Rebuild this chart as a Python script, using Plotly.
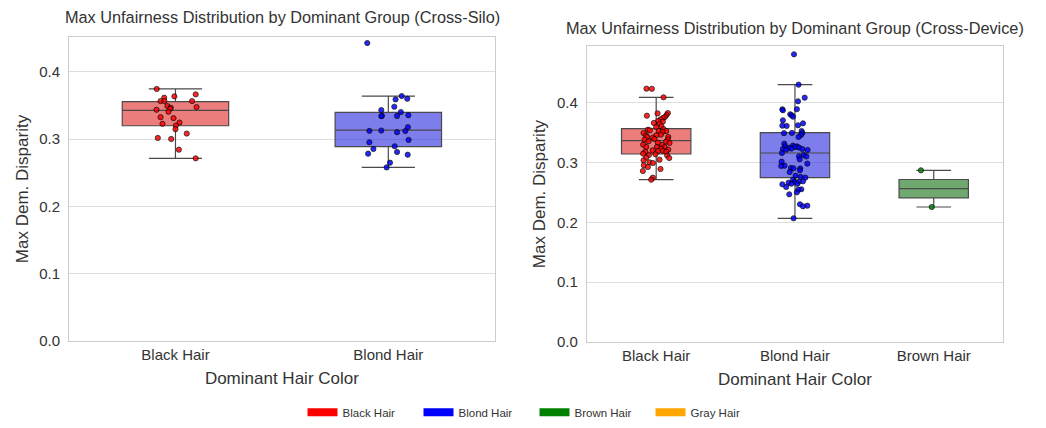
import plotly.graph_objects as go
from plotly.subplots import make_subplots

# categories per panel
SILO_GROUPS = ['Black Hair', 'Blond Hair']
DEVICE_GROUPS = ['Black Hair', 'Blond Hair', 'Brown Hair']
LEGEND_GROUPS = ['Black Hair', 'Blond Hair', 'Brown Hair', 'Gray Hair']

# Cross-Silo values (max dem. disparity per client) and strip jitter
silo_black = [0.3747, 0.3667, 0.3617, 0.3637, 0.3567, 0.3567, 0.3567, 0.3478,
              0.3493, 0.3468, 0.3453, 0.3438, 0.3408, 0.3328, 0.3313, 0.3248,
              0.3229, 0.3203, 0.3149, 0.3084, 0.3019, 0.3004, 0.2845, 0.2716]
silo_black_jit = [-0.088, 0.095, -0.053, -0.005, -0.070, -0.052, 0.078, 0.099,
                  -0.038, -0.022, -0.025, -0.089, -0.033, -0.070, -0.009, 0.019,
                  -0.061, 0.002, 0.000, 0.053, -0.083, -0.020, 0.016, 0.095]

silo_blond = [0.4430, 0.3642, 0.3592, 0.3602, 0.3483, 0.3433, 0.3403, 0.3348,
              0.3343, 0.3346, 0.3358, 0.3179, 0.3124, 0.3129, 0.3122, 0.3104,
              0.2990, 0.2955, 0.2855, 0.2895, 0.2785, 0.2810, 0.2770, 0.2651,
              0.2581]
silo_blond_jit = [-0.099, 0.063, 0.034, 0.089, 0.028, -0.033, 0.059, -0.030,
                  -0.033, 0.041, 0.094, 0.092, -0.089, -0.033, 0.080, 0.041,
                  0.095, -0.089, -0.070, 0.030, -0.095, 0.041, 0.091, 0.008,
                  -0.008]

# Cross-Device values and strip jitter
device_black = [0.4237, 0.4235, 0.4092, 0.3824, 0.3830, 0.3797, 0.3785, 0.3763,
                0.3746, 0.3724, 0.3696, 0.3685, 0.3663, 0.3646, 0.3607, 0.3596,
                0.3562, 0.3551, 0.3540, 0.3529, 0.3527, 0.3512, 0.3495, 0.3468,
                0.3457, 0.3451, 0.3429, 0.3427, 0.3418, 0.3395, 0.3390, 0.3384,
                0.3356, 0.3351, 0.3334, 0.3328, 0.3300, 0.3295, 0.3262, 0.3261,
                0.3259, 0.3234, 0.3217, 0.3206, 0.3194, 0.3196, 0.3183, 0.3181,
                0.3150, 0.3139, 0.3128, 0.3117, 0.3083, 0.3077, 0.3050, 0.3038,
                0.3005, 0.2994, 0.2955, 0.2927, 0.2894, 0.2860, 0.2749, 0.2715]
device_black_jit = [-0.070, -0.031, 0.053, 0.010, 0.084, 0.075, -0.067, 0.063,
                    0.048, 0.031, 0.014, 0.048, -0.017, 0.024, 0.038, 0.000,
                    0.053, -0.060, -0.046, 0.019, 0.072, 0.046, -0.091, 0.034,
                    0.000, -0.072, 0.087, -0.065, -0.024, -0.012, 0.084, -0.084,
                    -0.055, 0.072, 0.012, 0.096, -0.094, 0.043, -0.072, 0.005,
                    0.060, 0.036, 0.087, -0.026, 0.014, 0.048, -0.079, 0.072,
                    -0.094, -0.005, -0.053, 0.079, -0.072, 0.094, 0.024, -0.091,
                    -0.048, -0.024, -0.089, -0.060, 0.031, -0.096, -0.024, -0.036]

device_blond = [0.4811, 0.4304, 0.4086, 0.4025, 0.3891, 0.3893, 0.3875, 0.3808,
                0.3791, 0.3769, 0.3707, 0.3657, 0.3624, 0.3618, 0.3613, 0.3529,
                0.3495, 0.3497, 0.3493, 0.3462, 0.3429, 0.3317, 0.3284, 0.3273,
                0.3271, 0.3261, 0.3250, 0.3252, 0.3234, 0.3228, 0.3226, 0.3217,
                0.3211, 0.3161, 0.3128, 0.3105, 0.3103, 0.3055, 0.3016, 0.2983,
                0.2949, 0.2944, 0.2910, 0.2905, 0.2903, 0.2871, 0.2843, 0.2782,
                0.2760, 0.2749, 0.2715, 0.2687, 0.2682, 0.2680, 0.2665, 0.2648,
                0.2646, 0.2637, 0.2593, 0.2554, 0.2548, 0.2503, 0.2470, 0.2303,
                0.2280, 0.2269, 0.2069]
device_blond_jit = [-0.007, 0.026, 0.070, 0.022, -0.091, 0.014, -0.087, -0.034,
                    -0.024, -0.014, -0.087, 0.058, 0.022, -0.091, -0.060, 0.048,
                    0.053, -0.022, -0.079, 0.043, 0.026, -0.077, -0.014, -0.072,
                    0.014, 0.000, -0.043, 0.029, -0.026, 0.053, -0.087, -0.063,
                    0.091, -0.094, 0.063, 0.029, 0.082, 0.034, -0.096, 0.089,
                    -0.075, -0.099, -0.029, -0.010, 0.038, 0.036, -0.038, 0.005,
                    0.041, 0.075, -0.014, 0.058, 0.029, -0.002, -0.046, -0.026,
                    0.017, -0.091, -0.063, 0.046, 0.024, 0.014, -0.041, 0.036,
                    0.089, 0.058, -0.010]

device_brown = [0.2871, 0.2258]
device_brown_jit = [-0.092, -0.014]

# box summary: lower whisker, q1, median, q3, upper whisker
silo_black_box = [0.2716, 0.3200, 0.3430, 0.3560, 0.3747]
silo_blond_box = [0.2581, 0.2890, 0.3134, 0.3400, 0.3642]
device_black_box = [0.2715, 0.3144, 0.3368, 0.3569, 0.4092]
device_blond_box = [0.2069, 0.2749, 0.3161, 0.3502, 0.4304]
device_brown_box = [0.2258, 0.2411, 0.2565, 0.2718, 0.2871]

POINT_COLOURS = {'Black Hair': 'red', 'Blond Hair': 'blue',
                 'Brown Hair': 'green', 'Gray Hair': 'orange'}
BOX_FILLS = {'Black Hair': 'rgba(222,38,38,0.6)', 'Blond Hair': 'rgba(38,38,222,0.6)',
             'Brown Hair': 'rgba(16,112,16,0.6)'}

FONT = "Liberation Sans, Arial, sans-serif"

fig = make_subplots(rows=1, cols=2)


def add_group(fig, col, pos, name, values, jitter, stats):
    lo, q1, med, q3, hi = stats
    fig.add_trace(go.Box(
        x=[pos], q1=[q1], median=[med], q3=[q3],
        lowerfence=[lo], upperfence=[hi],
        width=0.5, whiskerwidth=0.5,
        fillcolor=BOX_FILLS[name],
        line=dict(color='#4a4a4a', width=1.2),
        showlegend=False, hoverinfo='skip'
    ), row=1, col=col)
    fig.add_trace(go.Scatter(
        x=[pos + j for j in jitter], y=values,
        mode='markers',
        marker=dict(size=5.2, color=POINT_COLOURS[name], opacity=0.85,
                    line=dict(color='black', width=0.8)),
        showlegend=False, name=name
    ), row=1, col=col)


add_group(fig, 1, 0, 'Black Hair', silo_black, silo_black_jit, silo_black_box)
add_group(fig, 1, 1, 'Blond Hair', silo_blond, silo_blond_jit, silo_blond_box)
add_group(fig, 2, 0, 'Black Hair', device_black, device_black_jit, device_black_box)
add_group(fig, 2, 1, 'Blond Hair', device_blond, device_blond_jit, device_blond_box)
add_group(fig, 2, 2, 'Brown Hair', device_brown, device_brown_jit, device_brown_box)

# legend only entries (patches)
for g in LEGEND_GROUPS:
    fig.add_trace(go.Scatter(
        x=[None], y=[None], mode='lines', name=g,
        line=dict(color=POINT_COLOURS[g], width=8)
    ), row=1, col=1)

axis_style = dict(
    showline=True, linecolor='#cccccc', linewidth=1, mirror=True,
    ticks='', automargin=False,
    tickfont=dict(size=15, color='#333333'),
    title_font=dict(size=17, color='#333333'),
)

fig.update_xaxes(**axis_style, showgrid=False, zeroline=False,
                 title_text='Dominant Hair Color', title_standoff=10)
fig.update_xaxes(domain=[0.066, 0.473], range=[-0.5, 1.5],
                 tickvals=[0, 1], ticktext=SILO_GROUPS, row=1, col=1)
fig.update_xaxes(domain=[0.561, 0.959], range=[-0.5, 2.5],
                 tickvals=[0, 1, 2], ticktext=DEVICE_GROUPS, row=1, col=2)

fig.update_yaxes(**axis_style, showgrid=True, gridcolor='#dddddd', gridwidth=1,
                 zeroline=False, tickvals=[0, 0.1, 0.2, 0.3, 0.4], ticklabelstandoff=5,
                 tickformat='.1f', title_text='Max Dem. Disparity', title_standoff=6)
fig.update_yaxes(domain=[0.2033, 0.9136], range=[0, 0.452], row=1, col=1)
fig.update_yaxes(domain=[0.2009, 0.8925], range=[0, 0.495], row=1, col=2)

fig.add_annotation(text='Max Unfairness Distribution by Dominant Group (Cross-Silo)',
                   x=0.2696, y=0.960, xref='paper', yref='paper',
                   xanchor='center', yanchor='middle', showarrow=False,
                   font=dict(size=16.3, color='#333333'))
fig.add_annotation(text='Max Unfairness Distribution by Dominant Group (Cross-Device)',
                   x=0.760, y=0.9346, xref='paper', yref='paper',
                   xanchor='center', yanchor='middle', showarrow=False,
                   font=dict(size=16.3, color='#333333'))

fig.update_layout(
    width=1046, height=428,
    margin=dict(l=0, r=0, t=0, b=0, autoexpand=False),
    paper_bgcolor='white', plot_bgcolor='white',
    font=dict(family=FONT, size=13, color='#333333'),
    legend=dict(orientation='h', x=0.511, xanchor='center', y=0.037, yanchor='middle',
                font=dict(size=11.5, color='#333333'), itemwidth=30,
                entrywidth=71, entrywidthmode='pixels'),
)

fig.write_html("out.html", config={'displayModeBar': False},
               post_script="document.body.style.margin='0';")
